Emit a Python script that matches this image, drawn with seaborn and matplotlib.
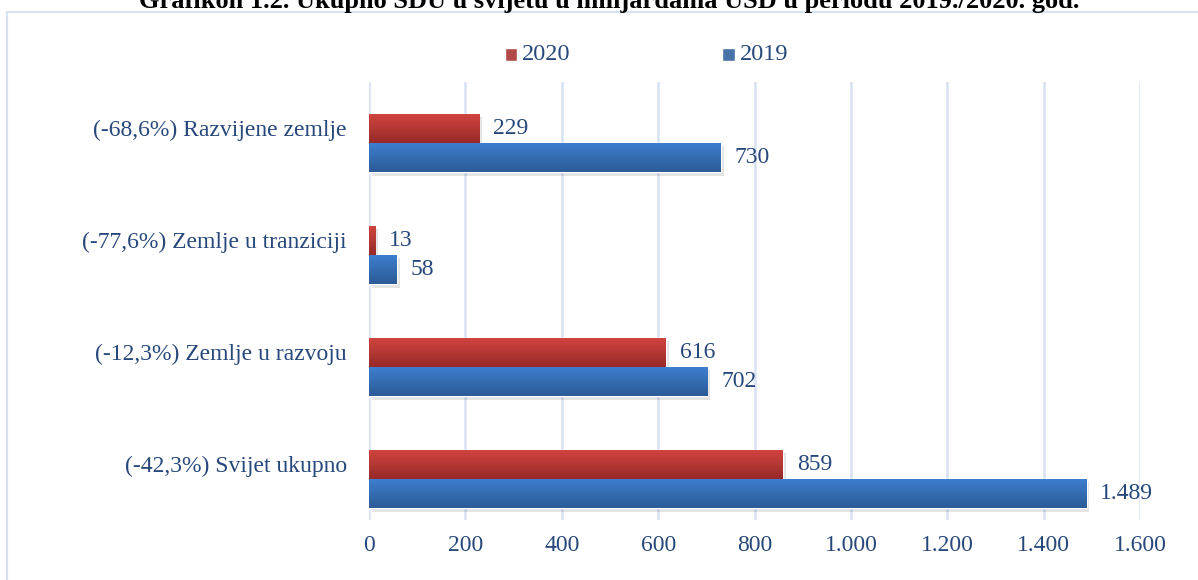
import numpy as np
import pandas as pd
import matplotlib
matplotlib.use("Agg")
import matplotlib.pyplot as plt
import matplotlib.patheffects as pe
from matplotlib.transforms import ScaledTranslation
from matplotlib.patches import Rectangle
import seaborn as sns

categories = ["(-68,6%) Razvijene zemlje", "(-77,6%) Zemlje u tranziciji",
              "(-12,3%) Zemlje u razvoju", "(-42,3%) Svijet ukupno"]
values_2020 = [229, 13, 616, 859]
values_2019 = [730, 58, 702, 1489]
years = ["2020", "2019"]
xticks = [0, 200, 400, 600, 800, 1000, 1200, 1400, 1600]
title = "Grafikon 1.2. Ukupno SDU u svijetu u milijardama USD u periodu 2019./2020. god."

df = pd.DataFrame({
    "kategorija": categories * 2,
    "godina": ["2020"] * 4 + ["2019"] * 4,
    "vrijednost": values_2020 + values_2019,
})

sns.set_theme(style="white")
plt.rcParams["font.family"] = ["Liberation Serif", "DejaVu Serif"]

text_col = "#27487A"
grid_col = "#D6E2F2"
palette = {"2020": "#C23A36", "2019": "#3670B8"}
grad = {"2020": ("#D2443E", "#962A28"), "2019": ("#3D7FCF", "#2C5B97")}
FS = 17

fig = plt.figure(figsize=(11.98, 5.80), dpi=100)
ax = fig.add_axes([369 / 1198, 1 - 520 / 580, 771 / 1198, 438 / 580])

sns.barplot(data=df, y="kategorija", x="vrijednost", hue="godina",
            hue_order=years, order=categories, palette=palette,
            orient="h", width=0.52, ax=ax, legend=True)

ylim = (3.5 - 15 / 112, -0.5 - 5 / 112)
ax.set_xlim(0, 1600)
ax.set_ylim(*ylim)
ax.set_xticks(xticks)
ax.set_xticklabels([f"{t:,.0f}".replace(",", ".") for t in xticks])
ax.set_xlabel("")
ax.set_ylabel("")
for s in ax.spines.values():
    s.set_visible(False)
ax.grid(axis="x", color=grid_col, linewidth=1.8)
ax.set_axisbelow(True)
ax.tick_params(axis="both", length=0, labelsize=FS, colors=text_col)
ax.tick_params(axis="x", pad=11)
ax.tick_params(axis="y", pad=16)
for lab in ax.get_yticklabels():
    lab.set_transform(lab.get_transform() + ScaledTranslation(0, 0.15, fig.dpi_scale_trans))

# gradient + soft shadow on bars
for cont, yr in zip(ax.containers, years):
    top_c, bot_c = grad[yr]
    cmap = matplotlib.colors.LinearSegmentedColormap.from_list("g", [top_c, bot_c])
    for p in cont.patches:
        p.set_path_effects([pe.SimplePatchShadow(offset=(2, -2.5), alpha=0.18,
                                                 shadow_rgbFace="#666666"), pe.Normal()])
        x0, y0 = p.get_x(), p.get_y()
        w, h = p.get_width(), p.get_height()
        img = ax.imshow(np.linspace(0, 1, 64).reshape(-1, 1), cmap=cmap,
                        extent=[x0, x0 + w, y0 + h, y0], aspect="auto",
                        origin="upper", zorder=p.get_zorder() + 0.1)
        img.set_clip_path(p)
    ax.bar_label(cont, labels=[f"{v:,.0f}".replace(",", ".") for v in cont.datavalues],
                 padding=10, fontsize=FS, color=text_col)

ax.set_xlim(0, 1600)
ax.set_ylim(*ylim)

leg = ax.legend(loc="center", bbox_to_anchor=(646 / 1198, 1 - 55 / 580),
                bbox_transform=fig.transFigure, ncol=2, frameon=False,
                fontsize=FS + 0.5, handlelength=0.55, handleheight=0.55,
                handletextpad=0.2, columnspacing=6.2, borderpad=0)
for t in leg.get_texts():
    t.set_color(text_col)
for h, yr in zip(leg.legend_handles, years):
    h.set_height(9)
    h.set_width(9)
    h.set_y(0)
    h.set_x(0.5)

fig.patches.append(Rectangle((7 / 1198, -0.1), 1.2, 1 - 12 / 580 + 0.1,
                             transform=fig.transFigure, fill=False,
                             edgecolor=grid_col, linewidth=1.5))
fig.text(609 / 1198, 1 - 8 / 580, title, ha="center", va="baseline",
         fontsize=19, fontweight="bold", color="black")

fig.savefig("out.png", dpi=100)
